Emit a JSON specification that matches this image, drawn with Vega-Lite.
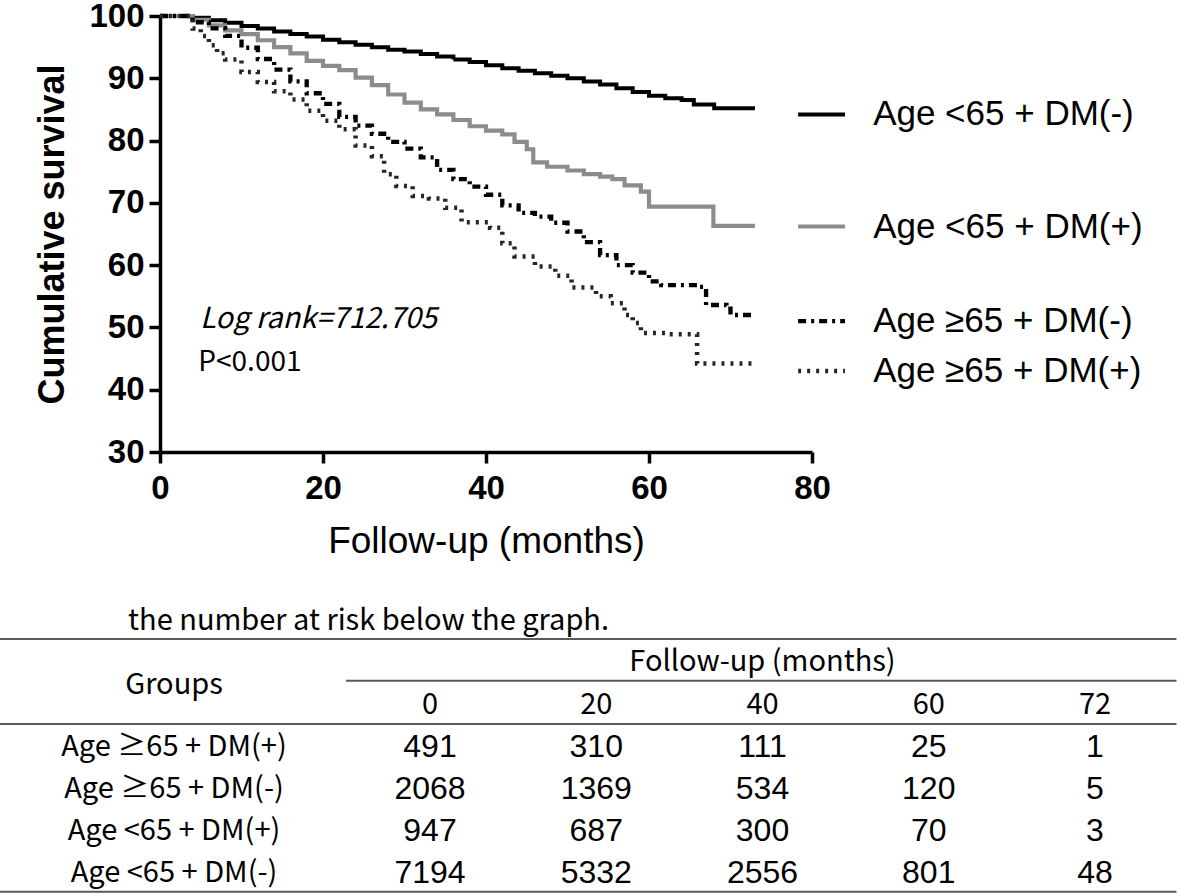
{
  "$schema": "https://vega.github.io/schema/vega-lite/v6.json",
  "width": 652,
  "height": 436,
  "autosize": {"type": "none"},
  "padding": {"left": 160, "top": 16, "right": 369, "bottom": 444},
  "background": "white",
  "config": {
    "view": {"stroke": null},
    "axis": {
      "domainColor": "#000", "domainWidth": 3.5, "tickColor": "#000", "tickWidth": 3.5, "tickSize": 11,
      "labelColor": "#000", "labelFont": "Liberation Sans", "labelFontWeight": "bold", "labelFontSize": 33,
      "grid": false, "titleColor": "#000", "titleFont": "Liberation Sans", "labelOverlap": false, "labelFlush": false
    }
  },
  "datasets": {
    "surv": [
      {"g": "Age <65 + DM(-)", "m": 0, "s": 100}, {"g": "Age <65 + DM(-)", "m": 2.8, "s": 100}, {"g": "Age <65 + DM(-)", "m": 4, "s": 99.7},
      {"g": "Age <65 + DM(-)", "m": 6, "s": 99.3}, {"g": "Age <65 + DM(-)", "m": 8, "s": 98.9}, {"g": "Age <65 + DM(-)", "m": 10, "s": 98.4},
      {"g": "Age <65 + DM(-)", "m": 12, "s": 98.0}, {"g": "Age <65 + DM(-)", "m": 14, "s": 97.5}, {"g": "Age <65 + DM(-)", "m": 16, "s": 97.1},
      {"g": "Age <65 + DM(-)", "m": 18, "s": 96.7}, {"g": "Age <65 + DM(-)", "m": 20, "s": 96.2}, {"g": "Age <65 + DM(-)", "m": 22, "s": 95.8},
      {"g": "Age <65 + DM(-)", "m": 24, "s": 95.4}, {"g": "Age <65 + DM(-)", "m": 26, "s": 95.0}, {"g": "Age <65 + DM(-)", "m": 28, "s": 94.6},
      {"g": "Age <65 + DM(-)", "m": 30, "s": 94.3}, {"g": "Age <65 + DM(-)", "m": 32, "s": 93.9}, {"g": "Age <65 + DM(-)", "m": 34, "s": 93.5},
      {"g": "Age <65 + DM(-)", "m": 36, "s": 93.0}, {"g": "Age <65 + DM(-)", "m": 38, "s": 92.6}, {"g": "Age <65 + DM(-)", "m": 40, "s": 92.1},
      {"g": "Age <65 + DM(-)", "m": 42, "s": 91.6}, {"g": "Age <65 + DM(-)", "m": 44, "s": 91.2}, {"g": "Age <65 + DM(-)", "m": 46, "s": 90.8},
      {"g": "Age <65 + DM(-)", "m": 48, "s": 90.4}, {"g": "Age <65 + DM(-)", "m": 50, "s": 90.0}, {"g": "Age <65 + DM(-)", "m": 52, "s": 89.5},
      {"g": "Age <65 + DM(-)", "m": 54, "s": 89.0}, {"g": "Age <65 + DM(-)", "m": 56, "s": 88.4}, {"g": "Age <65 + DM(-)", "m": 58, "s": 87.8},
      {"g": "Age <65 + DM(-)", "m": 60, "s": 87.2}, {"g": "Age <65 + DM(-)", "m": 62, "s": 86.8}, {"g": "Age <65 + DM(-)", "m": 64, "s": 86.5},
      {"g": "Age <65 + DM(-)", "m": 65.5, "s": 85.8}, {"g": "Age <65 + DM(-)", "m": 68, "s": 85.2}, {"g": "Age <65 + DM(-)", "m": 73, "s": 85.2},

      {"g": "Age <65 + DM(+)", "m": 0, "s": 100}, {"g": "Age <65 + DM(+)", "m": 2.8, "s": 100}, {"g": "Age <65 + DM(+)", "m": 4, "s": 99.4},
      {"g": "Age <65 + DM(+)", "m": 6, "s": 98.5}, {"g": "Age <65 + DM(+)", "m": 8, "s": 97.7}, {"g": "Age <65 + DM(+)", "m": 10, "s": 97.1},
      {"g": "Age <65 + DM(+)", "m": 12, "s": 96.1}, {"g": "Age <65 + DM(+)", "m": 14, "s": 95.0}, {"g": "Age <65 + DM(+)", "m": 16, "s": 94.0},
      {"g": "Age <65 + DM(+)", "m": 18, "s": 92.8}, {"g": "Age <65 + DM(+)", "m": 20, "s": 92.0}, {"g": "Age <65 + DM(+)", "m": 22, "s": 91.3},
      {"g": "Age <65 + DM(+)", "m": 24, "s": 90.1}, {"g": "Age <65 + DM(+)", "m": 26, "s": 88.9}, {"g": "Age <65 + DM(+)", "m": 28, "s": 87.4},
      {"g": "Age <65 + DM(+)", "m": 30, "s": 86.1}, {"g": "Age <65 + DM(+)", "m": 32, "s": 85.0}, {"g": "Age <65 + DM(+)", "m": 34, "s": 84.2},
      {"g": "Age <65 + DM(+)", "m": 36, "s": 83.3}, {"g": "Age <65 + DM(+)", "m": 38, "s": 82.3}, {"g": "Age <65 + DM(+)", "m": 40, "s": 81.6},
      {"g": "Age <65 + DM(+)", "m": 42, "s": 81.0}, {"g": "Age <65 + DM(+)", "m": 43.5, "s": 79.8}, {"g": "Age <65 + DM(+)", "m": 45, "s": 78.6},
      {"g": "Age <65 + DM(+)", "m": 45.8, "s": 76.5}, {"g": "Age <65 + DM(+)", "m": 47.5, "s": 75.8}, {"g": "Age <65 + DM(+)", "m": 50, "s": 75.2},
      {"g": "Age <65 + DM(+)", "m": 52, "s": 74.6}, {"g": "Age <65 + DM(+)", "m": 54, "s": 74.2}, {"g": "Age <65 + DM(+)", "m": 55.5, "s": 73.8},
      {"g": "Age <65 + DM(+)", "m": 57, "s": 72.8}, {"g": "Age <65 + DM(+)", "m": 59, "s": 71.8}, {"g": "Age <65 + DM(+)", "m": 60, "s": 69.4},
      {"g": "Age <65 + DM(+)", "m": 67.9, "s": 66.3}, {"g": "Age <65 + DM(+)", "m": 73, "s": 66.3},

      {"g": "Age ≥65 + DM(-)", "m": 0, "s": 100}, {"g": "Age ≥65 + DM(-)", "m": 2.8, "s": 100}, {"g": "Age ≥65 + DM(-)", "m": 4, "s": 99.0},
      {"g": "Age ≥65 + DM(-)", "m": 6, "s": 98.0}, {"g": "Age ≥65 + DM(-)", "m": 8, "s": 96.8}, {"g": "Age ≥65 + DM(-)", "m": 10, "s": 94.9},
      {"g": "Age ≥65 + DM(-)", "m": 12, "s": 93.1}, {"g": "Age ≥65 + DM(-)", "m": 14, "s": 91.4}, {"g": "Age ≥65 + DM(-)", "m": 16, "s": 89.5},
      {"g": "Age ≥65 + DM(-)", "m": 18, "s": 87.6}, {"g": "Age ≥65 + DM(-)", "m": 20, "s": 85.9}, {"g": "Age ≥65 + DM(-)", "m": 22, "s": 83.8},
      {"g": "Age ≥65 + DM(-)", "m": 24, "s": 82.4}, {"g": "Age ≥65 + DM(-)", "m": 26, "s": 81.1}, {"g": "Age ≥65 + DM(-)", "m": 28, "s": 79.8},
      {"g": "Age ≥65 + DM(-)", "m": 30, "s": 78.7}, {"g": "Age ≥65 + DM(-)", "m": 32, "s": 77.3}, {"g": "Age ≥65 + DM(-)", "m": 34, "s": 75.3},
      {"g": "Age ≥65 + DM(-)", "m": 36, "s": 73.8}, {"g": "Age ≥65 + DM(-)", "m": 38, "s": 72.6}, {"g": "Age ≥65 + DM(-)", "m": 40, "s": 71.3},
      {"g": "Age ≥65 + DM(-)", "m": 42, "s": 69.6}, {"g": "Age ≥65 + DM(-)", "m": 44, "s": 68.4}, {"g": "Age ≥65 + DM(-)", "m": 46, "s": 67.8},
      {"g": "Age ≥65 + DM(-)", "m": 48, "s": 66.8}, {"g": "Age ≥65 + DM(-)", "m": 50, "s": 65.4}, {"g": "Age ≥65 + DM(-)", "m": 52, "s": 63.7},
      {"g": "Age ≥65 + DM(-)", "m": 54, "s": 61.6}, {"g": "Age ≥65 + DM(-)", "m": 56, "s": 60.0}, {"g": "Age ≥65 + DM(-)", "m": 58, "s": 58.8},
      {"g": "Age ≥65 + DM(-)", "m": 60, "s": 57.4}, {"g": "Age ≥65 + DM(-)", "m": 61.5, "s": 56.8}, {"g": "Age ≥65 + DM(-)", "m": 66, "s": 56.5},
      {"g": "Age ≥65 + DM(-)", "m": 67, "s": 53.6}, {"g": "Age ≥65 + DM(-)", "m": 69.5, "s": 53.0}, {"g": "Age ≥65 + DM(-)", "m": 70, "s": 52.0},
      {"g": "Age ≥65 + DM(-)", "m": 73, "s": 52.0},

      {"g": "Age ≥65 + DM(+)", "m": 0, "s": 100}, {"g": "Age ≥65 + DM(+)", "m": 2.8, "s": 100}, {"g": "Age ≥65 + DM(+)", "m": 4, "s": 98.0},
      {"g": "Age ≥65 + DM(+)", "m": 5, "s": 96.8}, {"g": "Age ≥65 + DM(+)", "m": 6, "s": 95.3}, {"g": "Age ≥65 + DM(+)", "m": 7, "s": 94.0},
      {"g": "Age ≥65 + DM(+)", "m": 8, "s": 93.0}, {"g": "Age ≥65 + DM(+)", "m": 10, "s": 91.0}, {"g": "Age ≥65 + DM(+)", "m": 12, "s": 89.4},
      {"g": "Age ≥65 + DM(+)", "m": 14, "s": 87.9}, {"g": "Age ≥65 + DM(+)", "m": 16, "s": 86.6}, {"g": "Age ≥65 + DM(+)", "m": 18, "s": 84.8},
      {"g": "Age ≥65 + DM(+)", "m": 20, "s": 83.2}, {"g": "Age ≥65 + DM(+)", "m": 22, "s": 81.8}, {"g": "Age ≥65 + DM(+)", "m": 24, "s": 79.2},
      {"g": "Age ≥65 + DM(+)", "m": 26, "s": 77.5}, {"g": "Age ≥65 + DM(+)", "m": 27.5, "s": 74.6}, {"g": "Age ≥65 + DM(+)", "m": 29, "s": 72.7},
      {"g": "Age ≥65 + DM(+)", "m": 31, "s": 71.1}, {"g": "Age ≥65 + DM(+)", "m": 33, "s": 70.7}, {"g": "Age ≥65 + DM(+)", "m": 35, "s": 69.2},
      {"g": "Age ≥65 + DM(+)", "m": 37, "s": 66.9}, {"g": "Age ≥65 + DM(+)", "m": 40.5, "s": 66.0}, {"g": "Age ≥65 + DM(+)", "m": 42, "s": 63.5},
      {"g": "Age ≥65 + DM(+)", "m": 43.5, "s": 61.4}, {"g": "Age ≥65 + DM(+)", "m": 46, "s": 59.8}, {"g": "Age ≥65 + DM(+)", "m": 48.5, "s": 58.3},
      {"g": "Age ≥65 + DM(+)", "m": 50.5, "s": 56.4}, {"g": "Age ≥65 + DM(+)", "m": 53.5, "s": 55.0}, {"g": "Age ≥65 + DM(+)", "m": 55.3, "s": 53.9},
      {"g": "Age ≥65 + DM(+)", "m": 57, "s": 52.0}, {"g": "Age ≥65 + DM(+)", "m": 58, "s": 50.7}, {"g": "Age ≥65 + DM(+)", "m": 59, "s": 49.1},
      {"g": "Age ≥65 + DM(+)", "m": 62, "s": 48.9}, {"g": "Age ≥65 + DM(+)", "m": 65.9, "s": 44.2}, {"g": "Age ≥65 + DM(+)", "m": 73, "s": 44.2}
    ],
    "legend": [
      {"g": "Age <65 + DM(-)", "ly": 84.2},
      {"g": "Age <65 + DM(+)", "ly": 66.2},
      {"g": "Age ≥65 + DM(-)", "ly": 51.0},
      {"g": "Age ≥65 + DM(+)", "ly": 43.0}
    ],
    "notes": [
      {"t": "Log rank=712.705"}
    ],
    "risk": [
      {"r": 1, "c": 1, "n": "491"}, {"r": 1, "c": 2, "n": "310"}, {"r": 1, "c": 3, "n": "111"}, {"r": 1, "c": 4, "n": "25"}, {"r": 1, "c": 5, "n": "1"},
      {"r": 2, "c": 1, "n": "2068"}, {"r": 2, "c": 2, "n": "1369"}, {"r": 2, "c": 3, "n": "534"}, {"r": 2, "c": 4, "n": "120"}, {"r": 2, "c": 5, "n": "5"},
      {"r": 3, "c": 1, "n": "947"}, {"r": 3, "c": 2, "n": "687"}, {"r": 3, "c": 3, "n": "300"}, {"r": 3, "c": 4, "n": "70"}, {"r": 3, "c": 5, "n": "3"},
      {"r": 4, "c": 1, "n": "7194"}, {"r": 4, "c": 2, "n": "5332"}, {"r": 4, "c": 3, "n": "2556"}, {"r": 4, "c": 4, "n": "801"}, {"r": 4, "c": 5, "n": "48"}
    ],
    "groups": [
      {"r": 1, "label": "Age  ≥65 + DM(+)"},
      {"r": 2, "label": "Age ≥65 + DM(-)"},
      {"r": 3, "label": "Age <65 + DM(+)"},
      {"r": 4, "label": "Age <65 + DM(-)"}
    ],
    "cols": [
      {"c": 1, "h": "0"}, {"c": 2, "h": "20"}, {"c": 3, "h": "40"}, {"c": 4, "h": "60"}, {"c": 5, "h": "72"}
    ],
    "tlines": [
      {"x1": -1.586, "x2": 5.49, "r": -1.55},
      {"x1": 0.495, "x2": 5.49, "r": -0.56},
      {"x1": -1.586, "x2": 5.49, "r": 0.46},
      {"x1": -1.586, "x2": 5.49, "r": 4.44}
    ]
  },
  "layer": [
    {
      "layer": [
        {
          "data": {"name": "surv"},
          "mark": {"type": "line", "interpolate": "step-after"},
          "encoding": {
            "x": {"field": "m", "type": "quantitative", "scale": {"domain": [0, 80], "nice": false},
                  "axis": {"values": [0, 20, 40, 60, 80], "title": "Follow-up (months)", "titleFontSize": 37, "titleFontWeight": "normal", "titlePadding": 18, "labelPadding": 9}},
            "y": {"field": "s", "type": "quantitative", "scale": {"domain": [30, 100], "nice": false, "zero": false},
                  "axis": {"values": [30, 40, 50, 60, 70, 80, 90, 100], "title": "Cumulative survival", "titleFontSize": 36, "titleFontWeight": "bold", "titlePadding": 17, "labelPadding": 5}},
            "color": {"field": "g", "type": "nominal", "legend": null,
                      "scale": {"domain": ["Age <65 + DM(-)", "Age <65 + DM(+)", "Age ≥65 + DM(-)", "Age ≥65 + DM(+)"], "range": ["#000000", "#8c8c8c", "#000000", "#262626"]}},
            "strokeDash": {"field": "g", "type": "nominal", "legend": null,
                      "scale": {"domain": ["Age <65 + DM(-)", "Age <65 + DM(+)", "Age ≥65 + DM(-)", "Age ≥65 + DM(+)"], "range": [[1, 0], [1, 0], [8, 5, 3, 5], [3, 6]]}},
            "strokeWidth": {"field": "g", "type": "nominal", "legend": null,
                      "scale": {"domain": ["Age <65 + DM(-)", "Age <65 + DM(+)", "Age ≥65 + DM(-)", "Age ≥65 + DM(+)"], "range": [4, 4.5, 3.8, 3.8]}}
          }
        },
        {
          "data": {"name": "legend"},
          "mark": {"type": "rule"},
          "encoding": {
            "x": {"datum": 78.3},
            "x2": {"datum": 84.05},
            "y": {"field": "ly", "type": "quantitative"},
            "color": {"field": "g", "type": "nominal", "legend": null},
            "strokeDash": {"field": "g", "type": "nominal", "legend": null},
            "strokeWidth": {"field": "g", "type": "nominal", "legend": null}
          }
        },
        {
          "data": {"name": "legend"},
          "mark": {"type": "text", "align": "left", "baseline": "middle", "font": "Liberation Sans", "fontSize": 35, "color": "#000"},
          "encoding": {
            "x": {"datum": 87.5},
            "y": {"field": "ly", "type": "quantitative"},
            "text": {"field": "g", "type": "nominal"}
          }
        },
        {
          "data": {"name": "notes"},
          "mark": {"type": "text", "align": "left", "baseline": "middle", "font": "Noto Sans CJK KR", "fontSize": 29, "fontStyle": "italic", "color": "#000"},
          "encoding": {"x": {"datum": 4.9}, "y": {"datum": 51.3}, "text": {"field": "t", "type": "nominal"}}
        },
        {
          "data": {"name": "notes"},
          "mark": {"type": "text", "align": "left", "baseline": "middle", "font": "Noto Sans CJK KR", "fontSize": 28, "color": "#000", "text": "P<0.001"},
          "encoding": {"x": {"datum": 4.7}, "y": {"datum": 44.3}}
        }
      ]
    },
    {
      "layer": [
        {
          "data": {"name": "tlines"},
          "mark": {"type": "rule", "color": "#5a5a5a", "strokeWidth": 2},
          "encoding": {
            "x": {"field": "x1", "type": "quantitative", "scale": {"domain": [0, 6], "range": [103.75, 1101.25]}, "axis": null},
            "x2": {"field": "x2"},
            "y": {"field": "r", "type": "quantitative", "scale": {"domain": [0, 5], "range": [688.5, 899.5]}, "axis": null}
          }
        },
        {
          "data": {"name": "risk"},
          "mark": {"type": "text", "align": "center", "baseline": "middle", "font": "Liberation Sans", "fontSize": 32, "color": "#000"},
          "encoding": {
            "x": {"field": "c", "type": "quantitative", "scale": {"domain": [0, 6], "range": [103.75, 1101.25]}, "axis": null},
            "y": {"field": "r", "type": "quantitative", "scale": {"domain": [0, 5], "range": [688.5, 899.5]}, "axis": null},
            "text": {"field": "n", "type": "nominal"}
          }
        },
        {
          "data": {"name": "groups"},
          "mark": {"type": "text", "align": "center", "baseline": "middle", "font": "Noto Sans CJK KR", "fontSize": 29, "color": "#000"},
          "encoding": {
            "x": {"datum": -0.54, "scale": {"domain": [0, 6], "range": [103.75, 1101.25]}, "axis": null},
            "y": {"field": "r", "type": "quantitative", "scale": {"domain": [0, 5], "range": [688.5, 899.5]}, "axis": null},
            "text": {"field": "label", "type": "nominal"}
          }
        },
        {
          "data": {"name": "cols"},
          "mark": {"type": "text", "align": "center", "baseline": "middle", "font": "Noto Sans CJK KR", "fontSize": 29, "color": "#000"},
          "encoding": {
            "x": {"field": "c", "type": "quantitative", "scale": {"domain": [0, 6], "range": [103.75, 1101.25]}, "axis": null},
            "y": {"datum": 0, "scale": {"domain": [0, 5], "range": [688.5, 899.5]}, "axis": null},
            "text": {"field": "h", "type": "nominal"}
          }
        },
        {
          "data": {"name": "notes"},
          "mark": {"type": "text", "align": "center", "baseline": "middle", "font": "Noto Sans CJK KR", "fontSize": 29, "color": "#000", "text": "Groups"},
          "encoding": {"x": {"datum": -0.54, "axis": null}, "y": {"datum": -0.47, "axis": null}}
        },
        {
          "data": {"name": "notes"},
          "mark": {"type": "text", "align": "center", "baseline": "middle", "font": "Noto Sans CJK KR", "fontSize": 29, "color": "#000", "text": "Follow-up (months)"},
          "encoding": {"x": {"datum": 3, "axis": null}, "y": {"datum": -1, "axis": null}}
        },
        {
          "data": {"name": "notes"},
          "mark": {"type": "text", "align": "left", "baseline": "middle", "font": "Noto Sans CJK KR", "fontSize": 29, "color": "#000", "text": "the number at risk below the graph."},
          "encoding": {"x": {"datum": -0.816, "axis": null}, "y": {"datum": -1.97, "axis": null}}
        }
      ]
    }
  ],
  "resolve": {"scale": {"x": "independent", "y": "independent"}}
}
